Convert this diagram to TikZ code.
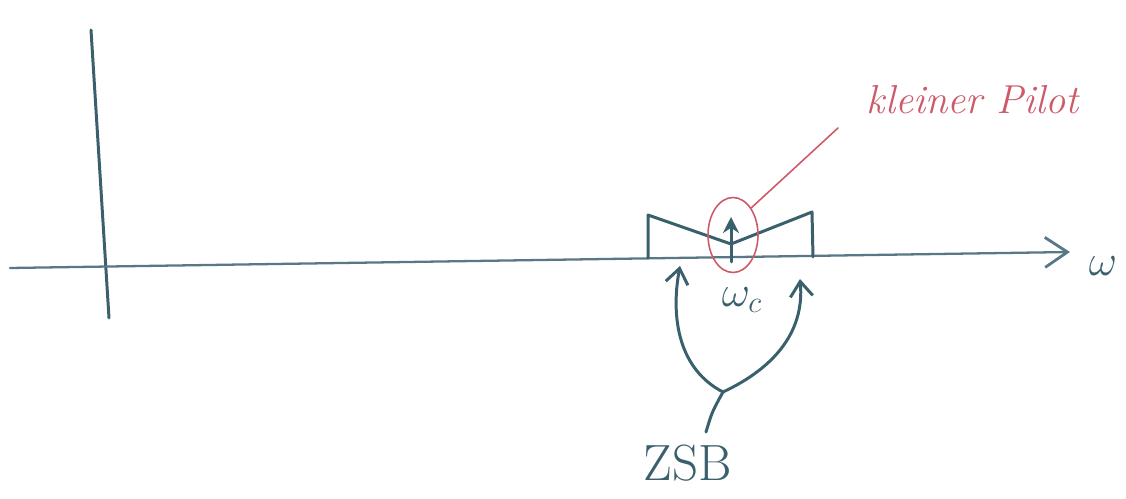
\documentclass[tikz,border=0pt]{standalone}
\usepackage{amsmath,amssymb}
\usepackage{tikz}
\usetikzlibrary{arrows.meta,shapes.geometric}
\definecolor{inkblue}{RGB}{58,96,110}
\definecolor{inkred}{RGB}{205,90,105}
\tikzset{
  sline/.style ={line width=1.7pt, inkblue, line cap=round, line join=round},
  saxis/.style ={line width=1.3pt, inkblue!85, line cap=round,
                 -{Straight Barb[length=4.5mm, width=6mm, line width=1.6pt]}},
  sbarb/.style ={sline, -{Straight Barb[length=3mm, width=4.5mm, line width=1.7pt]}},
  spilot/.style={sline, -{Stealth[length=3.2mm, width=3.2mm]}},
  rline/.style ={line width=0.9pt, inkred, line cap=round},
  rring/.style ={ellipse, draw=inkred, line width=0.9pt, inner sep=0pt,
                 minimum width=1cm, minimum height=1.5cm},
  blabel/.style={inkblue, inner sep=1pt},
  rlabel/.style={inkred, inner sep=1pt, font=\fontsize{23}{27}\selectfont\itshape},
}

\begin{document}
\begin{tikzpicture}[x=0.02cm, y=-0.02cm]
  \useasboundingbox (0,0) rectangle (1126,499);
  % axes
  \coordinate (yb) at (109,318);
  \coordinate (yt) at (91,30);
  \coordinate (xa) at (10,268);
  \coordinate (xe) at (1070,252);
  \draw[sline] (yb) -- (yt);
  \draw[saxis] (xa) -- (xe);
  \node[blabel, font=\fontsize{26}{30}\selectfont] (om) at (1103,266) {$\omega$};
  % spectrum
  \coordinate (sl) at (648,258);
  \coordinate (slt) at (648,215);
  \coordinate (sm) at (731,244);
  \coordinate (srt) at (812,212);
  \coordinate (sr) at (813,257);
  \draw[sline] (sl) -- (slt) -- (sm) -- (srt) -- (sr);
  \coordinate (pb) at (731,262);
  \coordinate (pt) at (731,217);
  \draw[spilot] (pb) -- (pt);
  % pilot
  \node[rring] (ring) at (733,235) {};
  \node[rlabel] (kp) at (973,100) {kleiner Pilot};
  \coordinate (kpend) at (838,128);
  \draw[rline] (ring.north east) -- (kpend);
  \node[blabel, font=\fontsize{26}{30}\selectfont] (wc) at (742,300) {$\omega_c$};
  % sidebands
  \node[blabel, font=\fontsize{29}{33}\selectfont] (zsb) at (688,463) {ZSB};
  \coordinate (jn) at (723,392);
  \coordinate (st) at (706,432);
  \coordinate (tl) at (680,266);
  \coordinate (tr) at (800,279);
  \draw[sline] (st) .. controls (712,412) .. (jn);
  \draw[sbarb] (jn) .. controls (680,370) and (670,320) .. (tl);
  \draw[sbarb] (jn) .. controls (770,370) and (805,335) .. (tr);
\end{tikzpicture}
\end{document}
